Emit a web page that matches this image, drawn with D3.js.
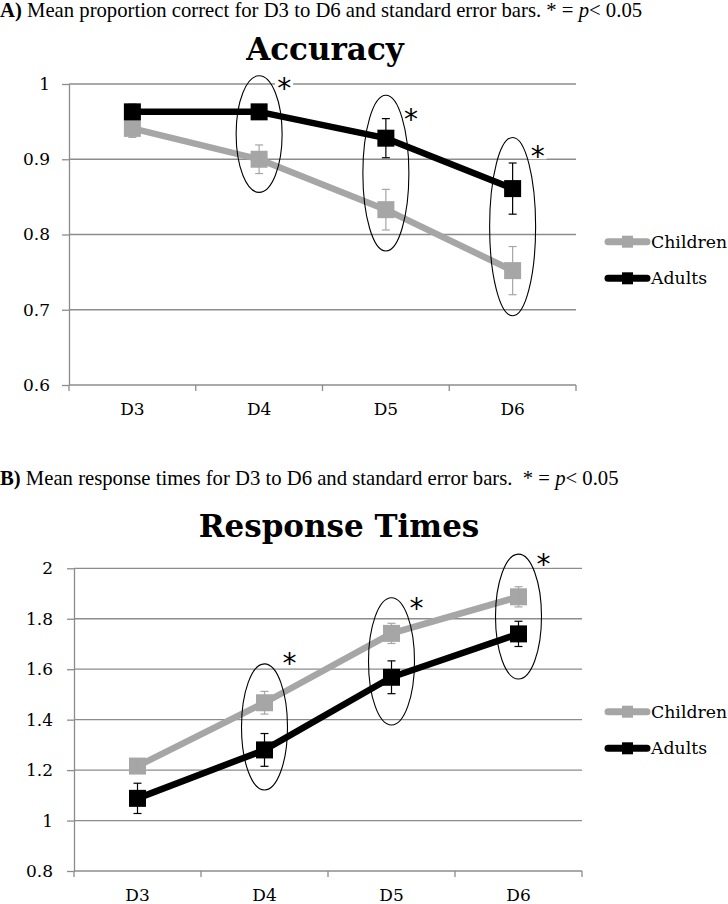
<!DOCTYPE html>
<html><head><meta charset="utf-8">
<script src="https://cdn.jsdelivr.net/npm/d3@7/dist/d3.min.js"></script>
<style>
html,body{margin:0;padding:0;background:#fff;}
svg{display:block;}
</style></head>
<body>
<svg id="chart" width="728" height="904"></svg>
<script>
// ---------- DATA ----------
const categories = ["D3", "D4", "D5", "D6"];
const seriesNames = ["Children", "Adults"];

// Panel A: accuracy (mean proportion correct) and SE
const accChildren = [0.941, 0.900, 0.833, 0.752];
const accChildrenSE = [0.012, 0.019, 0.027, 0.032];
const accAdults = [0.963, 0.963, 0.928, 0.861];
const accAdultsSE = [0.010, 0.008, 0.026, 0.034];
const accTicks = [0.6, 0.7, 0.8, 0.9, 1];
const accSig = ["D4", "D5", "D6"];
const accSigTop = [1.011, 0.985, 0.929];
const accSigBottom = [0.856, 0.778, 0.692];
const accStarAt = [1.003, 0.961, 0.912];

// Panel B: response times and SE
const rtChildren = [1.216, 1.467, 1.742, 1.887];
const rtChildrenSE = [0.02, 0.045, 0.04, 0.04];
const rtAdults = [1.088, 1.280, 1.568, 1.740];
const rtAdultsSE = [0.06, 0.065, 0.065, 0.05];
const rtTicks = [0.8, 1, 1.2, 1.4, 1.6, 1.8, 2];
const rtSig = ["D4", "D5", "D6"];
const rtSigTop = [1.621, 1.883, 2.056];
const rtSigBottom = [1.121, 1.379, 1.561];
const rtStarAt = [1.650, 1.868, 2.040];

const captionA = {bold: "A)", text: " Mean proportion correct for D3 to D6 and standard error bars. * = ", ital: "p", tail: "< 0.05"};
const captionB = {bold: "B)", text: " Mean response times for D3 to D6 and standard error bars.\u00a0 * = ", ital: "p", tail: "< 0.05"};

// ---------- DRAW ----------
const svg = d3.select("#chart");
const colors = {Children: "#a6a6a6", Adults: "#000000"};
const serif = "'DejaVu Serif', serif";
const times = "'Liberation Serif', 'Times New Roman', serif";

function caption(cap, y) {
  const t = svg.append("text").attr("x", 0).attr("y", y)
    .attr("font-family", times).attr("font-size", 20.7).attr("fill", "#000");
  t.append("tspan").attr("font-weight", "bold").text(cap.bold);
  t.append("tspan").text(cap.text);
  t.append("tspan").attr("font-style", "italic").text(cap.ital);
  t.append("tspan").text(cap.tail);
}

function panel(cfg) {
  const g = svg.append("g");
  const x = d3.scaleBand().domain(categories).range([cfg.left, cfg.right]).padding(0);
  const cx = c => x(c) + x.bandwidth() / 2;
  const y = d3.scaleLinear().domain(cfg.domain).range([cfg.bottom, cfg.top]);

  // title
  g.append("text").attr("x", cfg.titleX).attr("y", cfg.titleY)
    .attr("text-anchor", "middle").attr("font-family", serif)
    .attr("font-weight", "bold").attr("font-size", 31).text(cfg.title);

  // gridlines
  g.selectAll(".grid").data(cfg.ticks.slice(1)).join("line")
    .attr("x1", cfg.left).attr("x2", cfg.right)
    .attr("y1", d => y(d)).attr("y2", d => y(d))
    .attr("stroke", "#8c8c8c").attr("stroke-width", 1.3);

  // y axis
  const ya = g.append("g").attr("transform", `translate(${cfg.left},0)`)
    .call(d3.axisLeft(y).tickValues(cfg.ticks).tickFormat(d3.format("")).tickSize(7).tickSizeOuter(0));
  ya.select(".domain").attr("stroke", "#8c8c8c").attr("stroke-width", 1.3);
  ya.selectAll(".tick line").attr("stroke", "#8c8c8c").attr("stroke-width", 1.3);
  ya.selectAll(".tick text").attr("font-family", serif).attr("font-size", 17)
    .attr("fill", "#000").attr("x", cfg.labelOffset);

  // x axis
  const xa = g.append("g").attr("transform", `translate(0,${cfg.bottom})`)
    .call(d3.axisBottom(x).tickSize(0));
  xa.select(".domain").remove();
  xa.selectAll(".tick text").attr("font-family", serif).attr("font-size", 17)
    .attr("fill", "#000").attr("dy", "1.6em");
  g.append("line").attr("x1", cfg.left).attr("x2", cfg.right)
    .attr("y1", cfg.bottom).attr("y2", cfg.bottom)
    .attr("stroke", "#8c8c8c").attr("stroke-width", 1.3);
  const bounds = categories.map(c => x(c)).concat([cfg.right]);
  g.selectAll(".xt").data(bounds).join("line")
    .attr("x1", d => d).attr("x2", d => d)
    .attr("y1", cfg.bottom).attr("y2", cfg.bottom + 6)
    .attr("stroke", "#8c8c8c").attr("stroke-width", 1.3);

  // asterisks (with white background, as in the original)
  cfg.sig.forEach((c, i) => {
    const sx = cx(c) + 25, sy = y(cfg.starAt[i]);
    g.append("rect").attr("x", sx - 9).attr("y", sy - 9).attr("width", 18).attr("height", 18).attr("fill", "#fff");
    g.append("text").attr("x", sx).attr("y", sy + 16)
      .attr("text-anchor", "middle").attr("font-family", "'DejaVu Sans', sans-serif")
      .attr("font-size", 28).text("*");
  });

  // series
  const series = [
    {name: "Children", vals: cfg.children, se: cfg.childrenSE},
    {name: "Adults", vals: cfg.adults, se: cfg.adultsSE}
  ];
  const line = d3.line().x((d, i) => cx(categories[i])).y(d => y(d));
  series.forEach(s => {
    const col = colors[s.name];
    g.append("path").attr("d", line(s.vals)).attr("fill", "none")
      .attr("stroke", col).attr("stroke-width", 6.5).attr("stroke-linejoin", "round");
    g.selectAll(null).data(s.vals).join("rect")
      .attr("x", (d, i) => cx(categories[i]) - 8.5).attr("y", d => y(d) - 8.5)
      .attr("width", 17).attr("height", 17).attr("fill", col);
    s.vals.forEach((v, i) => {
      const xc = cx(categories[i]);
      const y1 = y(v + s.se[i]), y2 = y(v - s.se[i]);
      g.append("line").attr("x1", xc).attr("x2", xc).attr("y1", y1).attr("y2", y2)
        .attr("stroke", col).attr("stroke-width", 1.2);
      [y1, y2].forEach(yy => g.append("line").attr("x1", xc - 4).attr("x2", xc + 4)
        .attr("y1", yy).attr("y2", yy).attr("stroke", col).attr("stroke-width", 1.2));
    });
  });

  // significance ellipses
  cfg.sig.forEach((c, i) => {
    const top = y(cfg.sigTop[i]), bot = y(cfg.sigBottom[i]);
    g.append("ellipse").attr("cx", cx(c)).attr("cy", (top + bot) / 2)
      .attr("rx", 23).attr("ry", (bot - top) / 2)
      .attr("fill", "none").attr("stroke", "#000").attr("stroke-width", 1.1);
  });

  // legend
  series.forEach((s, i) => {
    const ly = cfg.legendY + i * 36.6;
    const col = colors[s.name];
    g.append("line").attr("x1", 608).attr("x2", 647).attr("y1", ly).attr("y2", ly)
      .attr("stroke", col).attr("stroke-width", 7).attr("stroke-linecap", "round");
    g.append("rect").attr("x", 622).attr("y", ly - 6).attr("width", 11).attr("height", 12).attr("fill", col);
    g.append("text").attr("x", 651).attr("y", ly).attr("dy", "0.35em")
      .attr("font-family", serif).attr("font-size", 17.3).text(s.name);
  });
}

caption(captionA, 17);
panel({title: "Accuracy", titleX: 325, titleY: 60, left: 69, right: 576, top: 84, bottom: 385,
  labelOffset: -19,
  domain: [0.6, 1], ticks: accTicks, children: accChildren, childrenSE: accChildrenSE,
  adults: accAdults, adultsSE: accAdultsSE, sig: accSig, sigTop: accSigTop, sigBottom: accSigBottom,
  starAt: accStarAt, legendY: 241.7});
caption(captionB, 485);
panel({title: "Response Times", titleX: 339, titleY: 537, left: 74, right: 582, top: 568.3, bottom: 871,
  labelOffset: -21,
  domain: [0.8, 2], ticks: rtTicks, children: rtChildren, childrenSE: rtChildrenSE,
  adults: rtAdults, adultsSE: rtAdultsSE, sig: rtSig, sigTop: rtSigTop, sigBottom: rtSigBottom,
  starAt: rtStarAt, legendY: 711.7});
</script>
</body></html>
